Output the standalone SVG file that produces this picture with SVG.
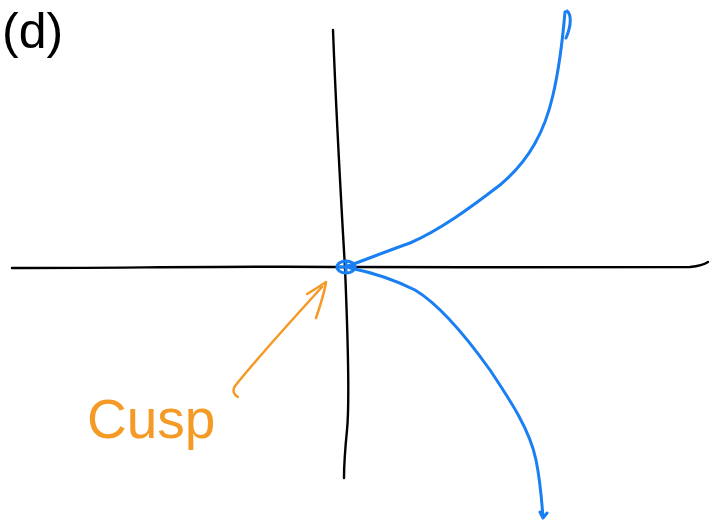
<svg xmlns="http://www.w3.org/2000/svg" width="717" height="522" viewBox="0 0 717 522">
<style>
.ink{fill:none;stroke-linecap:round;stroke-linejoin:round}
.axis{stroke:#000;stroke-width:2.4}
.curve{stroke:#1a7ff2;stroke-width:3}
.note{stroke:#f49a25;stroke-width:2.5}
.lbl{font-family:"Liberation Sans",Arial,sans-serif}
</style>
<rect width="717" height="522" fill="#fff"/>
<g id="title">
<text class="lbl" x="2" y="48" font-size="50" fill="#000">(d)</text>
</g>
<g id="connectors">
<path id="x-axis" class="ink axis" d="M12,268 C120,268 240,266 345,267 C460,267 600,268 690,267 C700,266 705,264 708,262"/>
<path id="y-axis" class="ink axis" d="M333,30 C336,110 341,200 345,268 C348,340 350,400 347,430 C345,450 344,465 344,478"/>
<path id="upper-branch" class="ink curve" d="M348,266 C370,258 390,250 410,243 C440,230 470,208 500,185 C530,160 545,130 553,95 C560,65 563,35 565,12 M567,11 C571,14 572,24 566,38"/>
<path id="lower-branch" class="ink curve" d="M350,268 C370,272 395,280 415,290 C440,305 465,335 490,370 C510,400 530,430 536,460 C541,485 542,505 543,518 M540,512 L543,518 L547,513"/>
</g>
<g id="cusp-point">
<ellipse cx="346" cy="267" rx="9" ry="6" class="ink curve" stroke-width="2.5"/>
<path class="ink curve" stroke-width="2" d="M338,267 L355,267 M346,261 L346,273"/>
</g>
<g id="cusp-label">
<text class="lbl" x="87" y="438" font-size="55" fill="#f49a25">Cusp</text>
<path class="ink note" d="M238,397 C234,395 232,391 235,386 C260,355 290,322 322,287 M307,294 C314,290 320,286 326,282 C324,295 320,306 316,318"/>
</g>
</svg>
